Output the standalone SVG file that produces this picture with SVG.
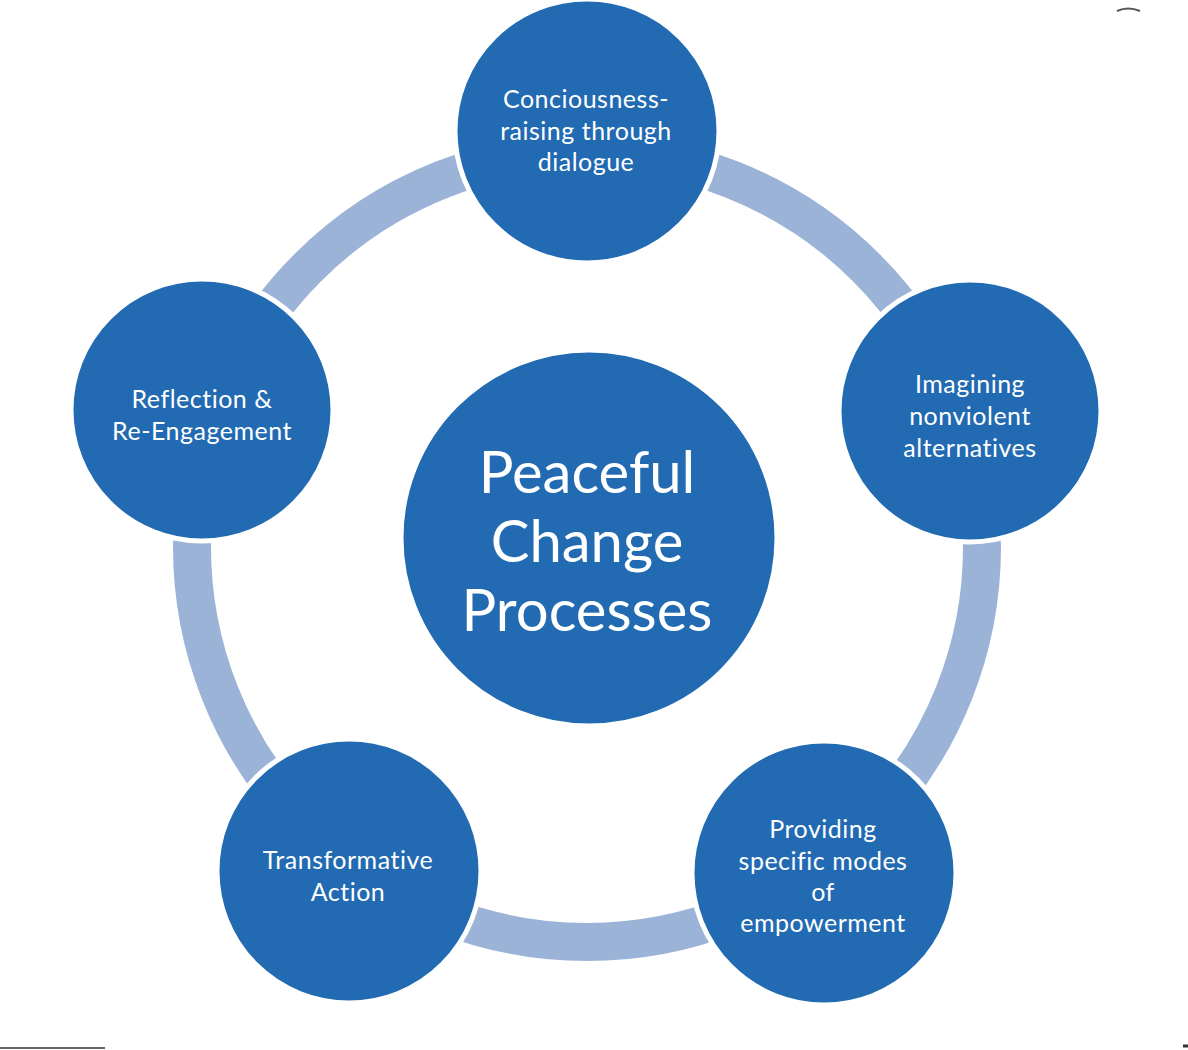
<svg xmlns="http://www.w3.org/2000/svg" width="1188" height="1050" viewBox="0 0 1188 1050">
<style>
.node{fill:#226AB2;stroke:#ffffff;stroke-width:5}
.lbl{font-family:Lato,"Open Sans","Liberation Sans",sans-serif;fill:#ffffff;font-size:25px;letter-spacing:0.5px;text-anchor:middle}
.big{font-family:Lato,"Open Sans","Liberation Sans",sans-serif;fill:#ffffff;font-size:58px;text-anchor:middle}
.ring{fill:none;stroke:#9CB3D8;stroke-width:38}
</style>
<rect width="1188" height="1050" fill="#ffffff"/>
<g id="connectors">
<circle class="ring" cx="587" cy="547" r="395"/>
</g>
<g id="center">
<circle class="node" cx="589" cy="538" r="188"/>
<text class="big" x="587" y="493">Peaceful</text>
<text class="big" x="587" y="562">Change</text>
<text class="big" x="587" y="631">Processes</text>
</g>
<g id="n1">
<circle class="node" cx="587" cy="131" r="132"/>
<text class="lbl" x="586" y="108">Conciousness-</text>
<text class="lbl" x="586" y="140">raising through</text>
<text class="lbl" x="586" y="171">dialogue</text>
</g>
<g id="n2">
<circle class="node" cx="970" cy="411" r="131"/>
<text class="lbl" x="970" y="393">Imagining</text>
<text class="lbl" x="970" y="425">nonviolent</text>
<text class="lbl" x="970" y="457">alternatives</text>
</g>
<g id="n3">
<circle class="node" cx="824" cy="873" r="132"/>
<text class="lbl" x="823" y="838">Providing</text>
<text class="lbl" x="823" y="870">specific modes</text>
<text class="lbl" x="823" y="901">of</text>
<text class="lbl" x="823" y="932">empowerment</text>
</g>
<g id="n4">
<circle class="node" cx="349" cy="871" r="132"/>
<text class="lbl" x="348" y="869">Transformative</text>
<text class="lbl" x="348" y="901">Action</text>
</g>
<g id="n5">
<circle class="node" cx="202" cy="410" r="131"/>
<text class="lbl" x="202" y="408">Reflection &amp;</text>
<text class="lbl" x="202" y="440">Re-Engagement</text>
</g>
<path d="M1117,11 Q1128,6 1140,11" fill="none" stroke="#555555" stroke-width="2"/>
<line x1="0" y1="1048" x2="105" y2="1048" stroke="#666666" stroke-width="2"/>
<line x1="1183" y1="1046" x2="1188" y2="1046" stroke="#333333" stroke-width="3"/>
</svg>
